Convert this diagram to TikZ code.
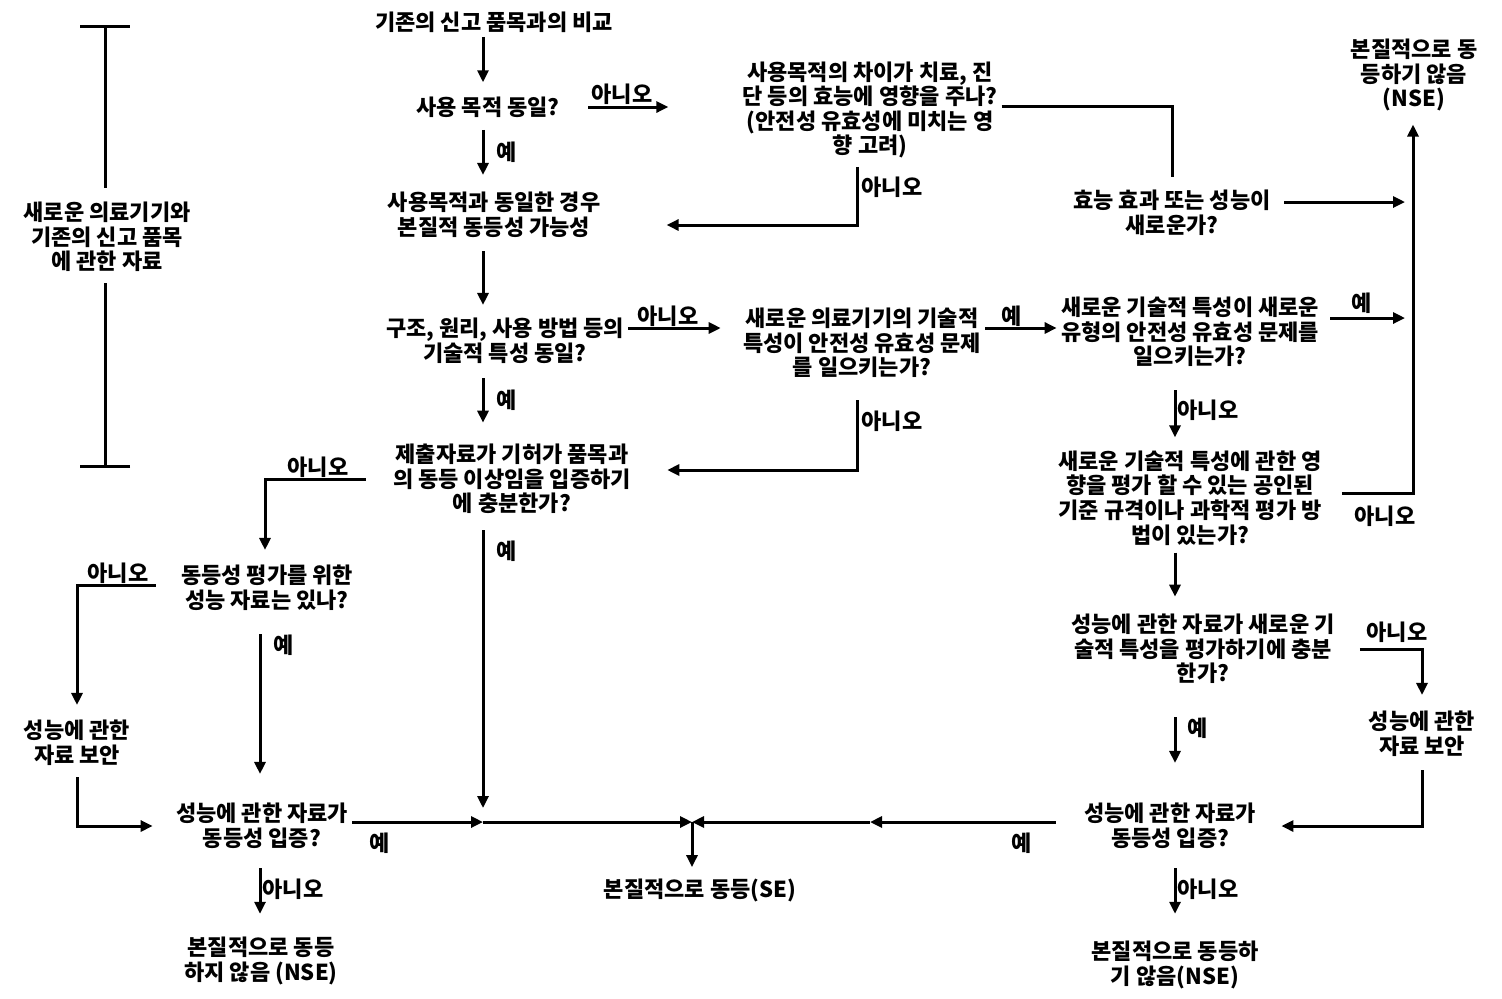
\documentclass[tikz,border=0pt]{standalone}
\usepackage{fontspec}
\setmainfont{Noto Sans CJK KR}
\usetikzlibrary{arrows.meta}

\begin{document}
\begin{tikzpicture}[x=0.5pt,y=-0.5pt,>={Triangle[length=6pt,width=5.5pt]},
  every node/.style={font=\bfseries\fontsize{11}{12.3}\selectfont,align=center,inner sep=2pt},
  lbl/.style={inner sep=1pt},
  link/.style={line width=1.5pt},
  arr/.style={link,->}]

  \useasboundingbox (0,0) rectangle (1502,998);

  \node (info) at (107,237) {새로운 의료기기와\\기존의 신고 품목\\에 관한 자료};
  \node (n0) at (494,22) {기존의 신고 품목과의 비교};
  \node (n1) at (488,107) {사용 목적 동일?};
  \node (n2) at (494,215) {사용목적과 동일한 경우\\본질적 동등성 가능성};
  \node (n3) at (505,341) {구조, 원리, 사용 방법 등의\\기술적 특성 동일?};
  \node (n4) at (512,479) {제출자료가 기허가 품목과\\의 동등 이상임을 입증하기\\에 충분한가?};
  \node (n5) at (267,588) {동등성 평가를 위한\\성능 자료는 있나?};
  \node (n6) at (77,743) {성능에 관한\\자료 보안};
  \node (n7) at (262,826) {성능에 관한 자료가\\동등성 입증?};
  \node (n8) at (261,961) {본질적으로 동등\\하지 않음 (NSE)};
  \node (se) at (700,890) {본질적으로 동등(SE)};
  \node (n9) at (870,110) {사용목적의 차이가 치료, 진\\단 등의 효능에 영향을 주나?\\(안전성 유효성에 미치는 영\\향 고려)};
  \node (n10) at (1172,213) {효능 효과 또는 성능이\\새로운가?};
  \node (n11) at (1414,75) {본질적으로 동\\등하기 않음\\(NSE)};
  \node (n12) at (862,343) {새로운 의료기기의 기술적\\특성이 안전성 유효성 문제\\를 일으키는가?};
  \node (n13) at (1190,332) {새로운 기술적 특성이 새로운\\유형의 안전성 유효성 문제를\\일으키는가?};
  \node (n14) at (1190,498) {새로운 기술적 특성에 관한 영\\향을 평가 할 수 있는 공인된\\기준 규격이나 과학적 평가 방\\법이 있는가?};
  \node (n15) at (1203,649) {성능에 관한 자료가 새로운 기\\술적 특성을 평가하기에 충분\\한가?};
  \node (n16) at (1422,734) {성능에 관한\\자료 보안};
  \node (n17) at (1170,826) {성능에 관한 자료가\\동등성 입증?};
  \node (n18) at (1175,965) {본질적으로 동등하\\기 않음(NSE)};

  \coordinate (bt) at (105,25);
  \coordinate (bb) at (105,468);
  \coordinate (colA) at (483,0);
  \coordinate (colB) at (260,0);
  \coordinate (colC) at (265,0);
  \coordinate (colD) at (857,0);
  \coordinate (colF) at (1413,0);
  \coordinate (colG) at (1175,0);
  \coordinate (jA) at (483,822);
  \coordinate (jB) at (692,822);
  \coordinate (jC) at (870,822);

  \node[lbl] (l1) at (622,94) {아니오};
  \node[lbl] (l2) at (507,152) {예};
  \node[lbl] (l3) at (892,187) {아니오};
  \node[lbl] (l4) at (668,316) {아니오};
  \node[lbl] (l5) at (507,400) {예};
  \node[lbl] (l6) at (1012,316) {예};
  \node[lbl] (l7) at (1362,303) {예};
  \node[lbl] (l8) at (892,421) {아니오};
  \node[lbl] (l9) at (1208,410) {아니오};
  \node[lbl] (l10) at (318,467) {아니오};
  \node[lbl] (l11) at (507,551) {예};
  \node[lbl] (l12) at (118,573) {아니오};
  \node[lbl] (l13) at (284,645) {예};
  \node[lbl] (l14) at (1385,516) {아니오};
  \node[lbl] (l15) at (1397,632) {아니오};
  \node[lbl] (l16) at (1198,728) {예};
  \node[lbl] (l17) at (380,843) {예};
  \node[lbl] (l18) at (1022,843) {예};
  \node[lbl] (l19) at (293,889) {아니오};
  \node[lbl] (l20) at (1208,889) {아니오};

  \draw[link,{Bar[width=25pt]}-,shorten >=5pt] (bt) -- (info.north -| bt);
  \draw[link,-{Bar[width=25pt]},shorten <=3.5pt] (info.south -| bt) -- (bb);

  \draw[arr,shorten >=5pt] (n0.south -| colA) -- (n1.north -| colA);
  \draw[arr,shorten <=4pt,shorten >=6.5pt] (n1.south -| colA) -- (n2.north -| colA);
  \draw[arr,shorten <=4.5pt,shorten >=4.5pt] (n2.south -| colA) -- (n3.north -| colA);
  \draw[arr,shorten <=5pt,shorten >=8.5pt] (n3.south -| colA) -- (n4.north -| colA);
  \draw[arr,shorten <=6pt,shorten >=7pt] (n4.south -| colA) -- (jA);
  \draw[arr] (n7.east |- jA) -- (jA);
  \draw[arr] (jA) -- (jB);
  \draw[arr,shorten <=12pt] (n17.west |- jB) -- (jC);
  \draw[arr] (jC) -- (jB);
  \draw[arr,shorten >=3.5pt] (jB) -- (se.north -| jB);
  \draw[arr,shorten <=7.5pt,shorten >=9.5pt] (n7.south -| colB) -- (n8.north -| colB);
  \draw[arr,shorten <=11.5pt,shorten >=5.5pt] (n4.west) -| (n5.north -| colC);
  \draw[arr,shorten <=10.5pt,shorten >=5.5pt] ([yshift=1.5pt]n5.west) -| (n6.north);
  \draw[arr,shorten <=3.5pt,shorten >=9.5pt] (n6.south) |- (n7.west);
  \draw[arr,shorten <=9.5pt,shorten >=12.5pt] (n5.south -| colB) -- (n7.north -| colB);

  \draw[arr,shorten <=12pt,shorten >=35pt] (n1.east) -- (n1.east -| n9.west);
  \draw[arr,shorten <=2pt,shorten >=31pt] (n9.south -| colD) |- ([yshift=-5pt]n2.east);
  \draw[link,shorten >=4.5pt] ([yshift=2pt]n9.east) -| (n10.north);
  \draw[arr,shorten <=4.5pt,shorten >=4pt] ([yshift=5.5pt]n10.east) -- ([yshift=5.5pt]n10.east -| colF);
  \draw[arr,shorten <=8pt,shorten >=4.5pt] ([yshift=2.5pt]n14.east) -| (n11.south -| colF);
  \draw[arr,shorten >=9pt] ([yshift=6.5pt]n3.east) -- ([yshift=6.5pt]n3.east -| n12.west);
  \draw[arr] ([yshift=7.5pt]n12.east) -- ([yshift=7.5pt]n12.east -| n13.west);
  \draw[arr,shorten <=3.5pt,shorten >=4pt] ([yshift=7pt]n13.east) -- ([yshift=7pt]n13.east -| colF);
  \draw[arr,shorten <=9pt,shorten >=16pt] (n12.south -| colD) |- ([yshift=4.5pt]n4.east);
  \draw[arr,shorten <=9.5pt,shorten >=4.5pt] (n13.south -| colG) -- (n14.north -| colG);
  \draw[arr,shorten <=1.5pt,shorten >=6.5pt] (n14.south -| colG) -- (n15.north -| colG);
  \draw[arr,shorten <=10.5pt,shorten >=6pt] (n15.east) -| (n16.north);
  \draw[arr,shorten <=4.5pt,shorten >=10.5pt] (n16.south) |- (n17.east);
  \draw[arr,shorten <=14.5pt,shorten >=18pt] (n15.south -| colG) -- (n17.north -| colG);
  \draw[arr,shorten <=7.5pt,shorten >=11.5pt] (n17.south -| colG) -- (n18.north -| colG);
\end{tikzpicture}
\end{document}
